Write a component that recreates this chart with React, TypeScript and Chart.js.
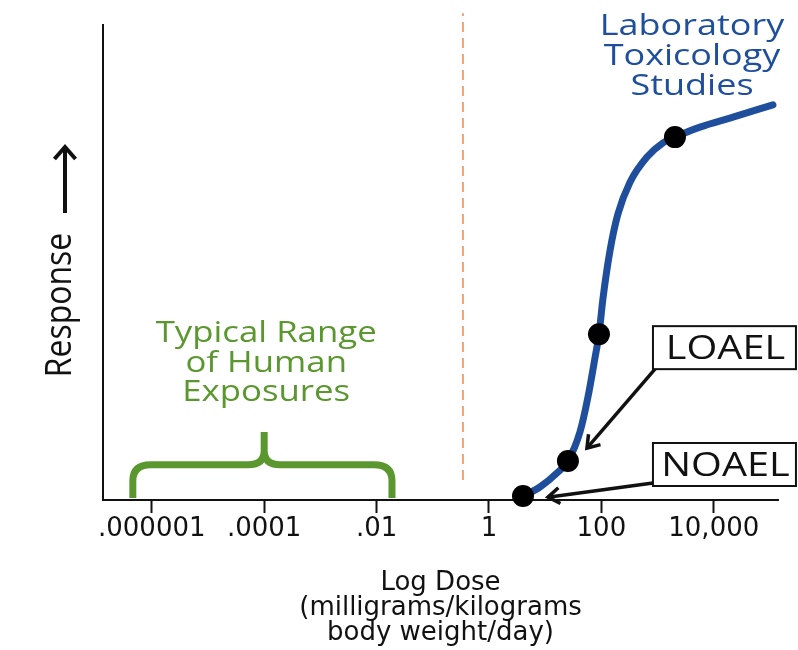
import React, { useEffect, useRef } from 'react';
import { Chart, registerables } from 'chart.js';

Chart.register(...registerables);

// ---------- data ----------
const tickDoses = [1e-6, 1e-4, 1e-2, 1, 100, 10000];
const tickLabels = ['.000001', '.0001', '.01', '1', '100', '10,000'];

const curveDose = [4.03, 8.08, 16.2, 25.4, 41.6, 57.8, 76.9, 90.6, 107, 142, 197, 323, 648, 1250, 2040, 5680, 22000, 113000];
const curveResponse = [0.84, 2.74, 5.68, 8.21, 14.3, 21.7, 29.9, 34.9, 42.5, 52.4, 60.2, 66.9, 72.2, 75.2, 76.4, 78.5, 80.6, 83.2];

const studyDose = [4.03, 25.4, 90.6, 2040];
const studyResponse = [0.84, 8.21, 34.9, 76.4];

const thresholdDose = [0.344, 0.344];
const thresholdResponse = [4.2, 102.5];

const humanRangeDose = [4.6e-7, 1e-4, 0.0188];
const humanRangeResponse = [0.4, 7.4, 14.3];

const levelLabels = ['LOAEL', 'NOAEL'];
const levelBoxDose = [828, 828];
const levelBoxTopResponse = [36.6, 12.0];
const levelTipDose = [55.4, 11.2];
const levelTipResponse = [10.9, 0.6];

const humanRangeLines = ['Typical Range', 'of Human', 'Exposures'];
const labLines = ['Laboratory', 'Toxicology', 'Studies'];
const labLabelDose = 4100;
const xTitleLines = ['Log Dose', '(milligrams/kilograms', 'body weight/day)'];
const yTitle = 'Response';

const doseMin = 1.355e-7;
const doseMax = 1.39e5;

// ---------- styles ----------
const BLUE = '#1f4f9c';
const GREEN = '#5b972f';
const ORANGE = '#f2a36f';
const INK = '#111111';
const TEXT_FONT = '"Open Sans", "DejaVu Sans", sans-serif';
const STRETCH = 1.2;

function drawStretchedText(ctx: CanvasRenderingContext2D, text: string, cx: number, baseline: number, size: number, color: string) {
  ctx.save();
  ctx.translate(cx, baseline);
  ctx.scale(STRETCH, 1);
  ctx.font = `500 ${size}px ${TEXT_FONT}`;
  ctx.fillStyle = color;
  ctx.textAlign = 'center';
  ctx.textBaseline = 'alphabetic';
  ctx.fillText(text, 0, 0);
  ctx.restore();
}

function drawArrow(ctx: CanvasRenderingContext2D, x0: number, y0: number, x1: number, y1: number, width: number, head: number, spread: number) {
  ctx.save();
  ctx.strokeStyle = INK;
  ctx.lineWidth = width;
  ctx.lineCap = 'butt';
  ctx.lineJoin = 'miter';
  ctx.beginPath();
  ctx.moveTo(x0, y0);
  ctx.lineTo(x1, y1);
  ctx.stroke();
  const a = Math.atan2(y1 - y0, x1 - x0);
  ctx.beginPath();
  ctx.moveTo(x1 - head * Math.cos(a - spread), y1 - head * Math.sin(a - spread));
  ctx.lineTo(x1, y1);
  ctx.lineTo(x1 - head * Math.cos(a + spread), y1 - head * Math.sin(a + spread));
  ctx.stroke();
  ctx.restore();
}

const annotationPlugin = {
  id: 'doseAnnotations',
  afterDatasetsDraw(chart: any) {
    const ctx: CanvasRenderingContext2D = chart.ctx;
    const x = chart.scales.x;
    const y = chart.scales.y;
    const area = chart.chartArea;

    // green brace
    const xl = x.getPixelForValue(humanRangeDose[0]);
    const xc = x.getPixelForValue(humanRangeDose[1]);
    const xr = x.getPixelForValue(humanRangeDose[2]);
    const yb = y.getPixelForValue(humanRangeResponse[0]);
    const yh = y.getPixelForValue(humanRangeResponse[1]);
    const yp = y.getPixelForValue(humanRangeResponse[2]);
    ctx.save();
    ctx.strokeStyle = GREEN;
    ctx.lineWidth = 7;
    ctx.lineCap = 'butt';
    ctx.lineJoin = 'round';
    ctx.beginPath();
    ctx.moveTo(xl, yb);
    ctx.lineTo(xl, yh + 16);
    ctx.quadraticCurveTo(xl, yh, xl + 18, yh);
    ctx.lineTo(xc - 16, yh);
    ctx.quadraticCurveTo(xc, yh, xc, yh - 14);
    ctx.lineTo(xc, yp);
    ctx.moveTo(xc, yh - 14);
    ctx.quadraticCurveTo(xc, yh, xc + 16, yh);
    ctx.lineTo(xr - 18, yh);
    ctx.quadraticCurveTo(xr, yh, xr, yh + 16);
    ctx.lineTo(xr, yb);
    ctx.stroke();
    ctx.restore();

    // green label
    [90, 60, 31].forEach((off, i) => drawStretchedText(ctx, humanRangeLines[i], xc + 2, yp - off, 29, GREEN));

    // blue label
    const lx = x.getPixelForValue(labLabelDose);
    [10, 40, 70].forEach((off, i) => drawStretchedText(ctx, labLines[i], lx, area.top + off, 30, BLUE));

    // LOAEL / NOAEL boxes and arrows
    const boxW = 143;
    const boxH = 43;
    levelLabels.forEach((label, i) => {
      const bx = x.getPixelForValue(levelBoxDose[i]);
      const by = y.getPixelForValue(levelBoxTopResponse[i]);
      const tx = x.getPixelForValue(levelTipDose[i]);
      const ty = y.getPixelForValue(levelTipResponse[i]);
      const tailX = bx + (i === 0 ? 2 : 0);
      const tailY = by + (i === 0 ? boxH : boxH - 3);
      drawArrow(ctx, tailX, tailY, tx, ty, 3.5, 14, 0.6);
      ctx.save();
      ctx.fillStyle = '#ffffff';
      ctx.fillRect(bx, by, boxW, boxH);
      ctx.strokeStyle = INK;
      ctx.lineWidth = 2;
      ctx.strokeRect(bx, by, boxW, boxH);
      ctx.restore();
      drawStretchedText(ctx, label, bx + boxW / 2 + 1, by + 33, 33, INK);
    });

    // y-axis title with arrow
    ctx.save();
    ctx.translate(71, 305);
    ctx.rotate(-Math.PI / 2);
    ctx.scale(1, 1.12);
    ctx.font = `500 32px ${TEXT_FONT}`;
    ctx.fillStyle = INK;
    ctx.textAlign = 'center';
    ctx.textBaseline = 'alphabetic';
    ctx.fillText(yTitle, 0, 0);
    ctx.restore();
    drawArrow(ctx, 65, 213, 65, 147, 4, 16, 0.72);
  },
};

export default function App() {
  const ref = useRef<HTMLCanvasElement>(null);

  useEffect(() => {
    const canvas = ref.current;
    if (!canvas) return;
    const chart = new Chart(canvas, {
      type: 'line',
      data: {
        datasets: [
          {
            label: 'Study doses',
            data: studyDose.map((d, i) => ({ x: d, y: studyResponse[i] })),
            showLine: false,
            pointRadius: 11,
            pointHoverRadius: 11,
            pointBackgroundColor: '#000000',
            pointBorderColor: '#000000',
            pointBorderWidth: 0,
            clip: false,
          } as any,
          {
            label: 'Dose-response',
            data: curveDose.map((d, i) => ({ x: d, y: curveResponse[i] })),
            borderColor: BLUE,
            borderWidth: 7,
            pointRadius: 0,
            cubicInterpolationMode: 'monotone',
            fill: false,
            borderCapStyle: 'round',
            clip: false,
          } as any,
          {
            label: 'Threshold',
            data: thresholdDose.map((d, i) => ({ x: d, y: thresholdResponse[i] })),
            borderColor: ORANGE,
            borderWidth: 2,
            borderDash: [10, 6],
            pointRadius: 0,
            fill: false,
            clip: false,
          } as any,
        ],
      },
      options: {
        responsive: false,
        animation: false,
        events: [],
        layout: { padding: { left: 0, top: 25, right: 20, bottom: 0 } },
        plugins: {
          legend: { display: false },
          tooltip: { enabled: false },
        },
        scales: {
          x: {
            type: 'logarithmic',
            min: doseMin,
            max: doseMax,
            afterBuildTicks: (scale: any) => {
              scale.ticks = tickDoses.map((v) => ({ value: v }));
            },
            afterFit: (scale: any) => {
              scale.height = 150;
            },
            ticks: {
              autoSkip: false,
              maxRotation: 0,
              minRotation: 0,
              padding: 1,
              color: INK,
              font: { family: '"DejaVu Sans", sans-serif', size: 26 },
              callback: (_v: any, i: number) => tickLabels[i],
            },
            grid: {
              display: true,
              drawOnChartArea: false,
              drawTicks: true,
              tickLength: 13,
              tickWidth: 2,
              tickColor: INK,
            },
            border: { display: true, color: INK, width: 2 },
            title: {
              display: true,
              text: xTitleLines,
              color: INK,
              font: { family: '"DejaVu Sans", sans-serif', size: 26, lineHeight: 0.96 },
              padding: { top: 0, bottom: 4 },
            },
          } as any,
          y: {
            type: 'linear',
            min: 0,
            max: 100,
            afterFit: (scale: any) => {
              scale.width = 103;
            },
            ticks: { display: false },
            grid: { display: false },
            border: { display: true, color: INK, width: 2 },
          } as any,
        },
      },
      plugins: [annotationPlugin],
    } as any);
    return () => chart.destroy();
  }, []);

  return (
    <div style={{ position: 'absolute', left: 0, top: 0, width: 798, height: 650, background: '#ffffff' }}>
      <canvas ref={ref} width={798} height={650} style={{ display: 'block', width: 798, height: 650 }} />
    </div>
  );
}
